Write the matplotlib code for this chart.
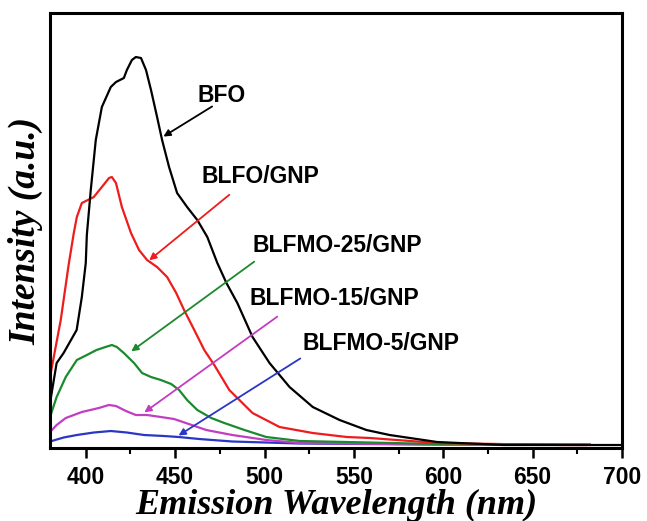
import matplotlib
matplotlib.use("Agg")
import matplotlib.pyplot as plt


# wavelength (nm) / intensity (a.u.)
bfo_wl = [380, 383.7, 387.6, 394.9, 397.8, 400, 400.6, 402.8, 405.6, 409, 414, 416.9, 421.3, 423,
          425.8, 428, 430.9, 433.7, 436.5, 439.9, 442.7, 446.6, 451.1, 456.7, 462.4, 468, 473.6,
          478.7, 484.8, 493.3, 502.8, 514, 527, 542, 557, 570, 596.6, 633.7, 700]
bfo_int = [42, 82, 92, 115, 148, 182, 210, 255, 305, 338, 358, 363, 367, 375,
           385, 388, 387, 375, 355, 328, 305, 278, 252, 238, 225, 208, 182,
           162, 142, 108, 82, 58, 38, 25, 15, 10, 3, 0, 0]

blfo_wl = [380, 386, 390.4, 393.3, 395, 397.8, 404.5, 409, 413, 414.6, 416.9, 420.2, 425.3, 429.8,
           434.3, 439.9, 445.5, 450.6, 455, 460.7, 466.3, 471.9, 480.3, 493.3, 508.4, 527, 546,
           559, 596.6, 665.7, 680]
blfo_int = [68, 125, 180, 212, 228, 242, 248, 258, 267, 268, 262, 238, 212, 195,
            185, 178, 168, 152, 135, 115, 95, 80, 55, 32, 18, 12, 8,
            7, 2, 0, 0]

m25_wl = [380, 383.7, 388.8, 395, 400.6, 406, 411, 414.6, 417.4, 421.3, 427, 431.5, 436.5, 442,
          447.8, 452.2, 456.7, 462.4, 470.2, 477.5, 488.8, 501, 519.7, 546, 596.6, 682]
m25_int = [28, 48, 68, 85, 90, 95, 98, 100, 98, 92, 82, 72, 68, 65,
           61, 55, 45, 35, 27, 22, 15, 8, 4, 3, 1, 0.5]

m15_wl = [380, 383.7, 388.8, 397.8, 407.3, 412.9, 416.9, 422.5, 428, 434.3, 442, 449.4, 456,
          467.4, 482, 501, 519.7, 596.6, 682]
m15_int = [13, 20, 27, 33, 37, 40, 39, 34, 30, 30, 28, 26, 22,
           15, 10, 5, 2, 0.5, 0]

m5_wl = [380, 387.6, 395, 404.5, 414, 423, 432.6, 443.8, 452, 463.5, 482, 519.7, 596.6, 682]
m5_int = [3.5, 7.5, 10, 12.5, 14, 12.5, 10, 9, 8, 6, 3.5, 1.5, 0.5, 0.2]

labels = ["BFO", "BLFO/GNP", "BLFMO-25/GNP", "BLFMO-15/GNP", "BLFMO-5/GNP"]
colors = ["black", "#ee1c1c", "#1b8a2e", "#c23dc2", "#2a36c4"]
# label centre, arrow tail, arrow head (data coords)
label_pos = [(476, 350), (497.5, 269), (541, 200), (539, 147), (565, 102)]
arrow_from = [(472, 340), (481.5, 252), (495.5, 185), (508.4, 130), (521.3, 88)]
arrow_to = [(442.1, 307), (434.3, 183), (424.2, 92), (431.5, 31), (450.6, 8)]

xticks = [400, 450, 500, 550, 600, 650, 700]


def main():
    fig = plt.figure(figsize=(6.47, 5.21), dpi=100)
    ax = fig.add_axes([0.0773, 0.1401, 0.8841, 0.8349])

    series = [(bfo_wl, bfo_int), (blfo_wl, blfo_int), (m25_wl, m25_int),
              (m15_wl, m15_int), (m5_wl, m5_int)]
    # draw small ones first so black sits on top like the original
    for (wl, inten), col in reversed(list(zip(series, colors))):
        ax.plot(wl, inten, color=col, lw=1.6)

    for lab, col, tpos, a0, a1 in zip(labels, colors, label_pos, arrow_from, arrow_to):
        ax.text(tpos[0], tpos[1], lab, ha="center", va="center",
                fontsize=16.5, fontweight="bold", family="Liberation Sans")
        ax.annotate("", xy=a1, xytext=a0,
                    arrowprops=dict(arrowstyle="-|>", color=col, lw=1.3, mutation_scale=10))

    ax.set_xlim(380, 700)
    ax.set_ylim(-3, 432)
    ax.set_xticks(xticks)
    ax.set_xticks([425, 475, 525, 575, 625, 675], minor=True)
    ax.set_yticks([])
    ax.tick_params(axis="x", which="major", direction="out", length=7, width=1.8,
                   labelsize=16.5, pad=6)
    ax.tick_params(axis="x", which="minor", direction="out", length=4, width=1.5)
    for t in ax.get_xticklabels():
        t.set_fontweight("bold")
        t.set_family("Liberation Sans")
    for sp in ax.spines.values():
        sp.set_linewidth(2.2)

    ax.set_xlabel("Emission Wavelength (nm)", fontsize=26, fontweight="bold",
                  style="italic", family="Liberation Serif", labelpad=0)
    ax.set_ylabel("Intensity (a.u.)", fontsize=27, fontweight="bold",
                  style="italic", family="Liberation Serif", labelpad=5)

    fig.savefig("out.png", dpi=100)


if __name__ == "__main__":
    main()
